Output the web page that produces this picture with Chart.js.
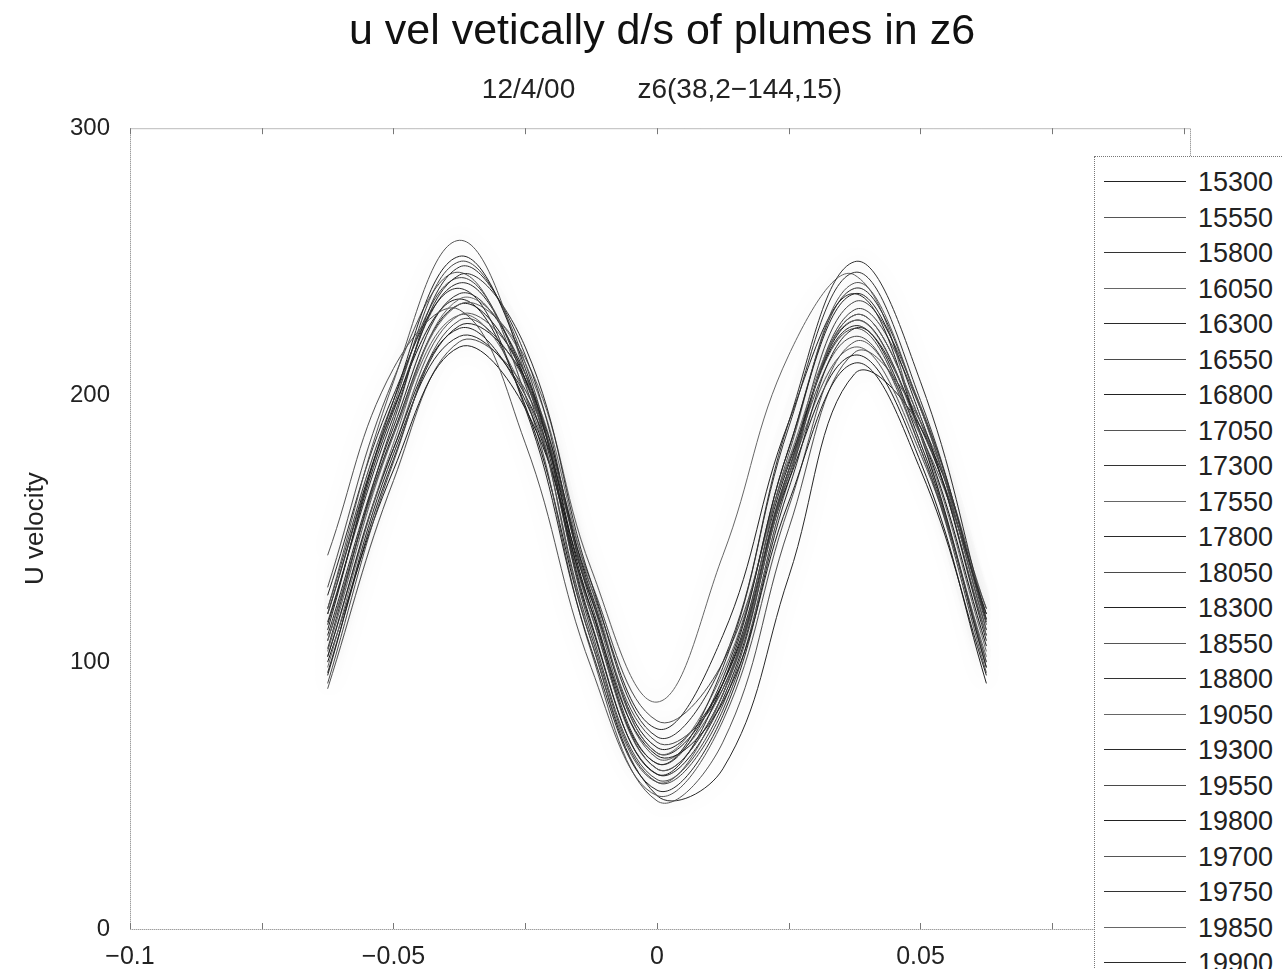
<!DOCTYPE html>
<html>
<head>
<meta charset="utf-8">
<script src="https://cdn.jsdelivr.net/npm/chart.js@4.4.0/dist/chart.umd.min.js"></script>
<style>
  html, body { margin: 0; padding: 0; background: #fff; overflow: hidden; }
  #wrap { position: relative; width: 1282px; height: 969px; }
  #legend {
    position: absolute; left: 1094px; top: 156px; width: 200px; height: 840px;
    background: #fff; border: 1px dotted #777; box-sizing: border-box;
    font-family: "Liberation Sans", Arial, sans-serif; font-size: 27px; color: #222;
  }
  .row { position: absolute; left: 0; height: 30px; }
  .row .swatch { position: absolute; left: 9px; top: 14px; width: 82px; border-top: 1px solid #555; }
  .row .txt { position: absolute; left: 103px; top: 0; line-height: 30px; }
</style>
</head>
<body>
<div id="wrap">
  <canvas id="chart" width="1282" height="969"></canvas>
  <div id="legend"></div>
</div>
<script>
// x positions (m) where each profile was sampled
var xPos = [-0.0625, -0.05, -0.0375, -0.025, -0.0125, 0, 0.0125, 0.025, 0.0375, 0.05, 0.0625];

var runs = ["15300", "15550", "15800", "16050", "16300", "16550", "16800", "17050",
            "17300", "17550", "17800", "18050", "18300", "18550", "18800", "19050",
            "19300", "19550", "19800", "19700", "19750", "19850", "19900"];

var u15300 = [112, 198, 252, 210, 115, 58, 92, 180, 238, 192, 108];
var u15550 = [120, 205, 258, 208, 108, 55, 88, 178, 242, 195, 112];
var u15800 = [105, 190, 248, 215, 122, 62, 98, 188, 246, 198, 115];
var u16050 = [98, 182, 236, 212, 128, 66, 96, 176, 228, 185, 104];
var u16300 = [125, 200, 240, 195, 105, 52, 80, 165, 225, 188, 118];
var u16550 = [92, 175, 228, 205, 125, 70, 90, 172, 222, 180, 100];
var u16800 = [102, 180, 225, 198, 120, 65, 85, 160, 212, 172, 95];
var u17050 = [140, 210, 232, 182, 98, 50, 78, 158, 220, 185, 120];
var u17300 = [115, 192, 245, 218, 130, 72, 100, 190, 250, 205, 116];
var u17550 = [108, 185, 230, 200, 118, 60, 88, 170, 230, 190, 110];
var u17800 = [95, 178, 222, 200, 128, 75, 110, 190, 238, 185, 98];
var u18050 = [118, 196, 250, 212, 112, 56, 84, 172, 235, 196, 114];
var u18300 = [100, 172, 218, 195, 124, 68, 92, 168, 215, 175, 92];
var u18550 = [128, 206, 246, 200, 104, 48, 70, 150, 216, 190, 120];
var u18800 = [110, 188, 238, 208, 118, 62, 94, 180, 240, 195, 112];
var u19050 = [104, 185, 234, 214, 135, 85, 140, 215, 245, 185, 100];
var u19300 = [96, 176, 226, 206, 126, 66, 92, 174, 226, 182, 98];
var u19550 = [120, 198, 244, 204, 110, 55, 82, 168, 232, 195, 116];
var u19800 = [108, 186, 234, 206, 120, 60, 88, 172, 228, 186, 106];
var u19700 = [90, 168, 220, 202, 130, 78, 100, 175, 225, 180, 96];
var u19750 = [114, 194, 242, 206, 114, 58, 86, 170, 230, 190, 110];
var u19850 = [102, 180, 230, 208, 124, 64, 90, 170, 218, 178, 102];
var u19900 = [118, 195, 236, 196, 108, 50, 60, 132, 208, 188, 118];

var series = [u15300, u15550, u15800, u16050, u16300, u16550, u16800, u17050,
              u17300, u17550, u17800, u18050, u18300, u18550, u18800, u19050,
              u19300, u19550, u19800, u19700, u19750, u19850, u19900];

var yTicks = [0, 100, 200, 300];
var xTicks = [-0.1, -0.05, 0, 0.05, 0.1];

var greys = ["#222", "#555", "#333", "#666", "#2a2a2a", "#4a4a4a"];

var datasets = series.map(function (vals, i) {
  return {
    label: runs[i],
    data: vals.map(function (v, j) { return { x: xPos[j], y: v }; }),
    borderColor: greys[i % greys.length],
    borderWidth: 1,
    pointRadius: 0,
    tension: 0.4,
    fill: false
  };
});

function fmt(v) {
  var s = String(Math.round(v * 1000) / 1000);
  return v < 0 ? "\u2212" + s.slice(1) : s;
}

// soft grey halo round each curve, dotted frame round the plot
var looks = {
  id: "looks",
  beforeDatasetDraw: function (chart) {
    chart.ctx.save();
    chart.ctx.shadowColor = "rgba(0,0,0,0.25)";
    chart.ctx.shadowBlur = 20;
  },
  afterDatasetDraw: function (chart) {
    chart.ctx.restore();
  },
  afterDraw: function (chart) {
    var a = chart.chartArea, ctx = chart.ctx;
    ctx.save();
    ctx.strokeStyle = "#777";
    ctx.lineWidth = 1;
    ctx.setLineDash([1, 1]);
    ctx.strokeRect(a.left + 0.5, a.top + 0.5, a.right - a.left + 6, a.bottom - a.top);
    ctx.setLineDash([]);
    var xs = chart.scales.x;
    for (var t = -0.1; t <= 0.1001; t += 0.025) {
      var px = Math.round(xs.getPixelForValue(t)) + 0.5;
      ctx.beginPath();
      ctx.moveTo(px, a.bottom); ctx.lineTo(px, a.bottom - 6);
      ctx.moveTo(px, a.top); ctx.lineTo(px, a.top + 6);
      ctx.stroke();
    }
    ctx.restore();
  }
};

var font = "'Liberation Sans', Arial, sans-serif";

var chart = new Chart(document.getElementById("chart"), {
  type: "line",
  data: { datasets: datasets },
  options: {
    responsive: false,
    animation: false,
    layout: { padding: { left: 42, right: 0, top: 0, bottom: 0 } },
    plugins: {
      legend: { display: false },
      tooltip: { enabled: false },
      title: {
        display: true,
        text: "u vel vetically d/s of plumes in z6",
        color: "#111",
        font: { family: font, size: 43, weight: "normal" },
        padding: { top: 6, bottom: 8 }
      },
      subtitle: {
        display: true,
        text: "12/4/00        z6(38,2\u2212144,15)",
        color: "#222",
        font: { family: font, size: 28, weight: "normal" },
        padding: { top: 8, bottom: 21 }
      }
    },
    scales: {
      x: {
        type: "linear",
        min: -0.1,
        max: 0.1,
        afterBuildTicks: function (s) { s.ticks = xTicks.map(function (v) { return { value: v }; }); },
        afterFit: function (s) { s.height = 40; },
        grid: { display: false },
        border: { display: false },
        ticks: {
          color: "#222",
          padding: 5,
          maxRotation: 0,
          font: { family: font, size: 25 },
          callback: function (v) { return fmt(v); }
        }
      },
      y: {
        min: 0,
        max: 300,
        afterBuildTicks: function (s) { s.ticks = yTicks.map(function (v) { return { value: v }; }); },
        afterFit: function (s) { s.width = 88; },
        grid: { display: false },
        border: { display: false },
        title: {
          display: true,
          text: "U velocity",
          color: "#222",
          font: { family: font, size: 26 },
          padding: { top: -22, bottom: 0 }
        },
        ticks: {
          color: "#222",
          padding: 12,
          font: { family: font, size: 24 }
        }
      },
      // empty right-hand axis: reserves the strip the legend sits in
      yRight: {
        position: "right",
        min: 0,
        max: 300,
        afterFit: function (s) { s.width = 98; },
        grid: { display: false },
        border: { display: false },
        ticks: { display: false }
      }
    }
  },
  plugins: [looks]
});

// legend built from the chart's own datasets
var leg = document.getElementById("legend");
chart.data.datasets.forEach(function (ds, i) {
  var row = document.createElement("div");
  row.className = "row";
  row.style.top = (10 + i * 35.5) + "px";
  row.innerHTML = '<div class="swatch" style="border-color:' + ds.borderColor + '"></div><div class="txt">' + ds.label + "</div>";
  leg.appendChild(row);
});
</script>
</body>
</html>
